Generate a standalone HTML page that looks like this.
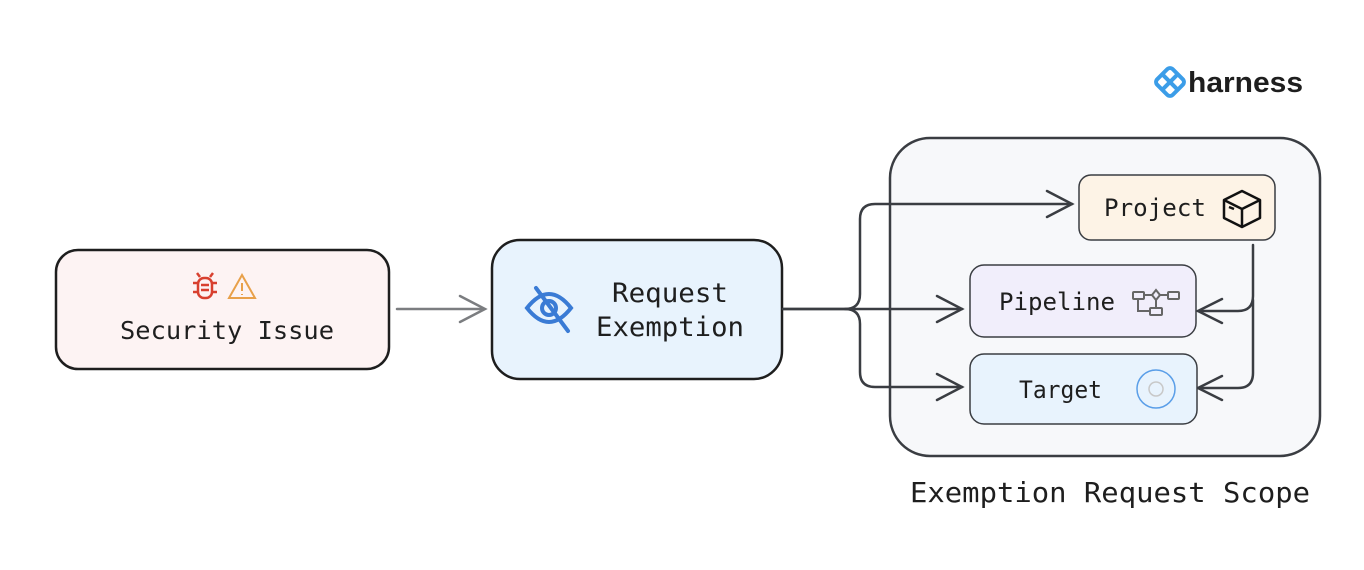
<!DOCTYPE html>
<html><head><meta charset="utf-8"><style>
html,body{margin:0;padding:0;background:#fff;}
svg{display:block;}
text{font-family:"DejaVu Sans Mono","Liberation Mono",monospace;fill:#1e1e1e;}
</style></head><body>
<svg width="1364" height="570" viewBox="0 0 1364 570" xmlns="http://www.w3.org/2000/svg">
<!-- logo -->
<g transform="translate(1170,82) rotate(45)">
  <rect x="-11" y="-11" width="22" height="22" rx="4" fill="none" stroke="#3b9de8" stroke-width="4"/>
  <line x1="0" y1="-11" x2="0" y2="11" stroke="#3b9de8" stroke-width="4"/>
  <line x1="-11" y1="0" x2="11" y2="0" stroke="#3b9de8" stroke-width="4"/>
</g>
<text x="1188" y="92" style="font-family:'Liberation Sans',sans-serif;font-weight:bold;font-size:29px" fill="#1b1b2a" textLength="115" lengthAdjust="spacingAndGlyphs">harness</text>

<!-- scope -->
<rect x="890" y="138" width="430" height="318" rx="40" fill="#f7f8fa" stroke="#3a3d42" stroke-width="2.5"/>
<text x="910" y="502" font-size="28" textLength="400" lengthAdjust="spacingAndGlyphs">Exemption Request Scope</text>

<!-- security -->
<rect x="56" y="250" width="333" height="119" rx="22" fill="#fdf3f3" stroke="#1e1e1e" stroke-width="2.5"/>
<g stroke="#d8402f" stroke-width="2.5" fill="none">
  <rect x="198" y="278" width="14" height="20" rx="6"/>
  <line x1="201" y1="285" x2="209" y2="285"/><line x1="201" y1="290" x2="209" y2="290"/>
  <line x1="193" y1="283" x2="198" y2="283"/><line x1="212" y1="283" x2="217" y2="283"/>
  <line x1="193" y1="292" x2="198" y2="292"/><line x1="212" y1="292" x2="217" y2="292"/>
  <line x1="200" y1="277" x2="197" y2="273"/><line x1="210" y1="277" x2="213" y2="273"/>
</g>
<g stroke="#e8a04a" stroke-width="2" fill="none">
  <path d="M242 275 L255 298 L229 298 Z"/>
  <line x1="242" y1="283" x2="242" y2="291"/><line x1="242" y1="294" x2="242" y2="295"/>
</g>
<text x="120" y="339" font-size="25" textLength="214" lengthAdjust="spacingAndGlyphs">Security Issue</text>

<!-- gray arrow -->
<g stroke="#7b7d80" stroke-width="2.5" fill="none" stroke-linecap="round">
  <line x1="397" y1="309" x2="484" y2="309"/>
  <polyline points="460,296 485,309 460,322"/>
</g>

<!-- request -->
<rect x="492" y="240" width="290" height="139" rx="28" fill="#e8f3fd" stroke="#1e1e1e" stroke-width="2.5"/>
<g stroke="#3a7bd5" stroke-width="4" fill="none" stroke-linecap="round">
  <path d="M527 308 Q549 280 571 308 Q549 336 527 308 Z"/>
  <circle cx="549" cy="308" r="7"/>
  <line x1="536" y1="288" x2="568" y2="331"/>
</g>
<text x="612" y="302" font-size="27" textLength="116" lengthAdjust="spacingAndGlyphs">Request</text>
<text x="596" y="336" font-size="27" textLength="148" lengthAdjust="spacingAndGlyphs">Exemption</text>

<!-- connectors -->
<g stroke="#3a3d42" stroke-width="2.5" fill="none" stroke-linecap="round">
  <path d="M783 309 H845 Q860 309 860 294 V219 Q860 204 875 204 H1072"/>
  <polyline points="1047,191 1072,204 1047,217"/>
  <path d="M783 309 H962"/>
  <polyline points="937,296 962,309 937,322"/>
  <path d="M845 309 Q860 309 860 324 V372 Q860 387 875 387 H962"/>
  <polyline points="937,374 962,387 937,400"/>
  <path d="M1253 245 V296 Q1253 311 1238 311 H1198"/>
  <polyline points="1222,299 1198,311 1222,323"/>
  <path d="M1253 300 V373 Q1253 388 1238 388 H1198"/>
  <polyline points="1222,376 1198,388 1222,400"/>
</g>

<!-- project -->
<rect x="1079" y="175" width="196" height="65" rx="12" fill="#fdf3e6" stroke="#3a3d42" stroke-width="1.5"/>
<text x="1104" y="216" font-size="24" textLength="102" lengthAdjust="spacingAndGlyphs">Project</text>
<g stroke="#111" stroke-width="2.5" fill="none" stroke-linejoin="round">
  <path d="M1224 200 L1242 191 L1260 200 L1260 218 L1242 227 L1224 218 Z"/>
  <path d="M1224 200 L1242 209 L1260 200 M1242 209 V227"/>
  <line x1="1229" y1="207" x2="1234" y2="209"/>
</g>

<!-- pipeline -->
<rect x="970" y="265" width="226" height="72" rx="14" fill="#f1eefb" stroke="#3a3d42" stroke-width="1.5"/>
<text x="999" y="310" font-size="24" textLength="116" lengthAdjust="spacingAndGlyphs">Pipeline</text>
<g stroke="#666" stroke-width="2" fill="none">
  <rect x="1133" y="292" width="11" height="7" rx="1"/>
  <path d="M1156 290 L1160 295 L1156 300 L1152 295 Z"/>
  <rect x="1168" y="292" width="11" height="7" rx="1"/>
  <rect x="1150" y="308" width="12" height="7" rx="1"/>
  <line x1="1144" y1="295" x2="1152" y2="295"/><line x1="1160" y1="295" x2="1168" y2="295"/>
  <path d="M1138 299 V311 H1150"/><line x1="1156" y1="300" x2="1156" y2="308"/>
</g>

<!-- target -->
<rect x="970" y="354" width="227" height="70" rx="14" fill="#e8f3fd" stroke="#3a3d42" stroke-width="1.5"/>
<text x="1019" y="398" font-size="24" textLength="83" lengthAdjust="spacingAndGlyphs">Target</text>
<circle cx="1156" cy="389" r="19" fill="none" stroke="#5a9ee8" stroke-width="1.5"/>
<circle cx="1156" cy="389" r="7" fill="none" stroke="#c8c8c8" stroke-width="1.5"/>
</svg>
</body></html>
